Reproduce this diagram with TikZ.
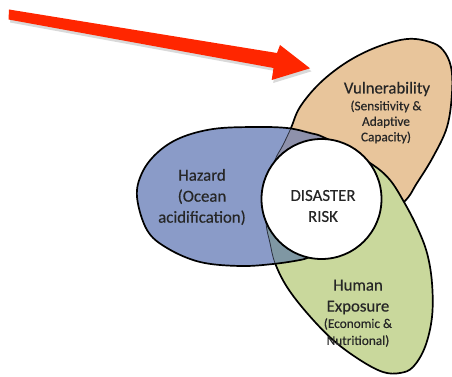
\documentclass[tikz,border=0pt]{standalone}
\usepackage{fontspec}
\setmainfont[FakeBold=0.35]{Carlito}
\definecolor{vulC}{HTML}{E8C59B}
\definecolor{hazC}{HTML}{8A9BC8}
\definecolor{expC}{HTML}{C9D89C}
\definecolor{hvC}{HTML}{8E91AB}
\definecolor{heC}{HTML}{7F97A3}
\definecolor{arrC}{HTML}{FF2600}
\definecolor{txtC}{HTML}{262626}
\newcommand{\vulshape}{plot[smooth cycle, tension=0.6] coordinates {(291,128) (300,107) (320,83) (347,62) (377,47) (407,39) (430,42) (443,50) (451,67) (452,93) (447,127) (433,157) (417,183) (404,202) (372,228) (335,237) (298,226) (276,205) (270,180) (275,160) (283,145)}}
\newcommand{\expshape}{plot[smooth cycle, tension=0.6] coordinates {(373,165) (390,180) (404,202) (417,227) (427,253) (432,283) (432,317) (425,347) (413,367) (400,373) (383,372) (360,360) (333,340) (307,313) (287,287) (275,263) (270,243) (266,222) (268,195) (285,165) (315,150) (348,152)}}
\newcommand{\hazshape}{plot[smooth cycle, tension=0.6] coordinates {(137,197) (142,173) (157,153) (180,138) (213,129) (253,127) (287,128) (310,133) (323,137) (345,150) (358,180) (355,225) (330,250) (310,257) (300,260) (273,264) (240,266) (200,262) (167,248) (147,230)}}
\newcommand{\lblbig}{\fontsize{16.8}{21}\selectfont}
\newcommand{\lblsmall}{\fontsize{13.3}{15.5}\selectfont}
\newcommand{\lblsmallb}{\fontsize{13.3}{17}\selectfont}
\begin{document}
\begin{tikzpicture}[x=1pt,y=-1pt,
  outl/.style={draw=black, line width=1.7pt},
  thinoutl/.style={draw=black!70!hazC, line width=0.8pt},
  lbl/.style={text=txtC, align=center, inner sep=0pt}]
\useasboundingbox (0,0) rectangle (452,377);
% vulnerability
\fill[vulC] \vulshape;
\draw[outl] \vulshape;
% exposure
\fill[expC] \expshape;
\draw[outl] \expshape;
% hazard
\fill[hazC] \hazshape;
\begin{scope}
  \clip \hazshape;
  \fill[hvC] \vulshape;
  \fill[heC] \expshape;
  \draw[thinoutl] \vulshape;
  \draw[thinoutl] \expshape;
\end{scope}
\draw[outl] \hazshape;
% disaster risk circle
\node[circle, draw=black, line width=1.8pt, fill=white, minimum size=120pt, inner sep=0pt] (risk) at (321.5,199) {};
\node[lbl, font=\lblbig] (risktxt) at (323,206) {DISASTER\\RISK};
% labels
\node[lbl, font=\lblbig] (haz) at (202,197) {Hazard\\(Ocean\\acidification)};
\node[lbl, font=\lblbig] (vul) at (387,89) {Vulnerability};
\node[lbl, font=\lblsmall] (vulsub) at (386,122) {(Sensitivity \&\\Adaptive\\Capacity)};
\node[lbl, font=\lblbig] (exp) at (358,297) {Human\\Exposure};
\node[lbl, font=\lblsmallb] (expsub) at (358,332.5) {(Economic \&\\Nutritional)};
% red arrow
\fill[black, opacity=0.15] (10.5,12.5) -- (278.5,56) -- (281.5,48) -- (311.5,71.3) -- (273.2,83) -- (275,71) -- (10,22.5) -- cycle;
\fill[arrC] (9,9.5) -- (277,53) -- (280,45) -- (310,68.3) -- (271.7,80) -- (273.5,68) -- (8.5,19.5) -- cycle;
\end{tikzpicture}
\end{document}
